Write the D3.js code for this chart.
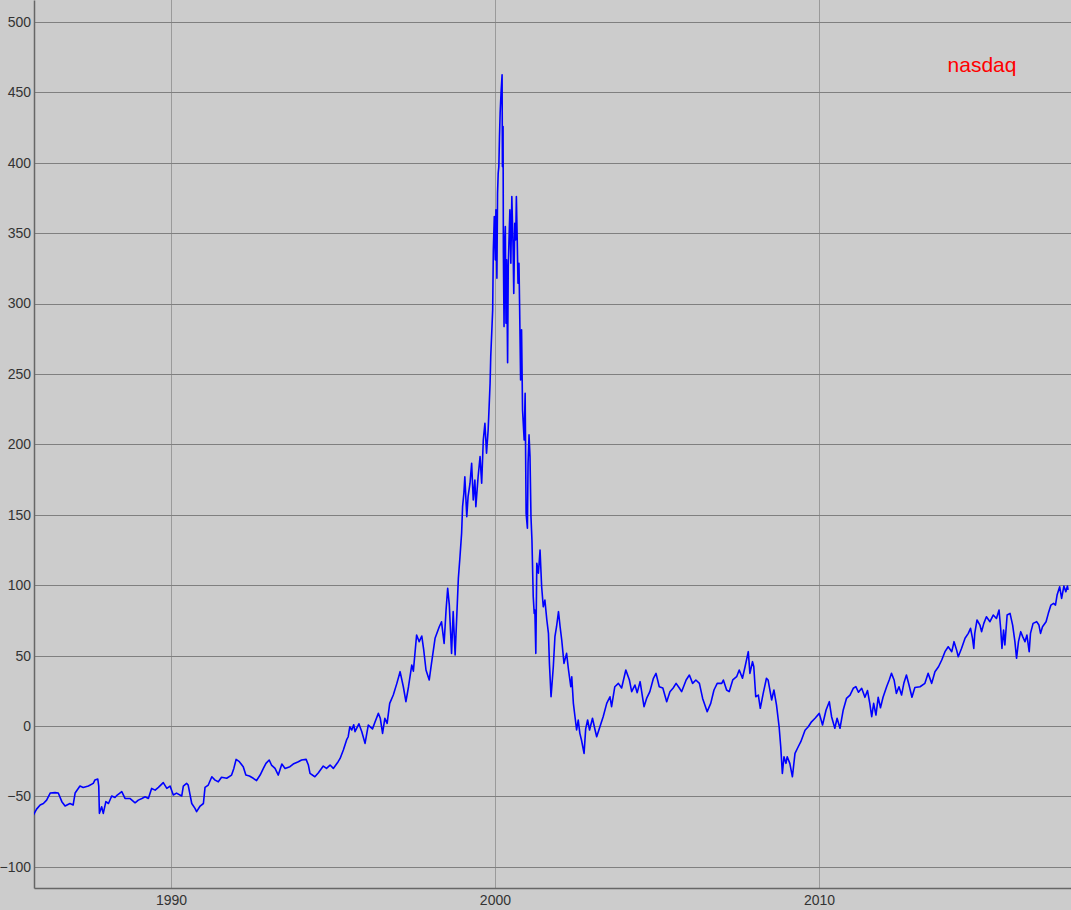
<!DOCTYPE html>
<html>
<head>
<meta charset="utf-8">
<script src="https://cdn.jsdelivr.net/npm/d3@7"></script>
<style>
  html, body { margin: 0; padding: 0; background: #cccccc; }
  svg { display: block; }
</style>
</head>
<body>
<div id="chart"></div>
<script>
// series label
const seriesName = "nasdaq";

// tick values
const yTicks = [-100, -50, 0, 50, 100, 150, 200, 250, 300, 350, 400, 450, 500];
const xTickYears = [1990, 2000, 2010];

// [decimal year, value]
const series = [
  [1985.75, -63.2], [1985.85, -59], [1985.96, -56], [1986.06, -55], [1986.16, -52.6],
  [1986.27, -47.6], [1986.42, -47.3], [1986.52, -47.5], [1986.63, -53.7], [1986.73, -56.8],
  [1986.88, -55], [1986.98, -56], [1987.04, -47.6], [1987.19, -42.6], [1987.29, -43.6],
  [1987.45, -42.6], [1987.60, -40.7], [1987.65, -38.4], [1987.74, -37.6], [1987.77, -42.6],
  [1987.79, -62], [1987.86, -57.3], [1987.91, -62], [1987.99, -53.7], [1988.07, -55],
  [1988.17, -49.7], [1988.27, -50.7], [1988.34, -49], [1988.48, -46.6], [1988.58, -51.4],
  [1988.73, -51.4], [1988.89, -54.5], [1988.99, -52.6], [1989.10, -51.4], [1989.20, -50.2],
  [1989.30, -51.4], [1989.40, -44.3], [1989.51, -45.5], [1989.61, -43.6], [1989.76, -40.2],
  [1989.87, -44.3], [1989.97, -42.6], [1990.07, -49], [1990.17, -47.6], [1990.33, -49.7],
  [1990.38, -42.6], [1990.48, -40.7], [1990.53, -41.9], [1990.64, -55], [1990.74, -58.5],
  [1990.79, -60.8], [1990.90, -56.8], [1991.00, -55], [1991.05, -43.6], [1991.15, -41.9],
  [1991.26, -36], [1991.36, -38.4], [1991.46, -39.6], [1991.56, -36.4], [1991.72, -37.1],
  [1991.87, -34.8], [1991.94, -30.1], [1992.01, -23.7], [1992.11, -25.3], [1992.23, -28.9],
  [1992.31, -34.8], [1992.42, -35.5], [1992.54, -37.1], [1992.64, -38.7], [1992.75, -34.8],
  [1992.85, -30.1], [1992.93, -26.5], [1993.03, -24.1], [1993.10, -27.7], [1993.21, -30.1],
  [1993.31, -34.8], [1993.42, -27], [1993.52, -30.1], [1993.67, -28.9], [1993.77, -27],
  [1993.93, -25.3], [1994.03, -24.1], [1994.17, -23.7], [1994.24, -27.7], [1994.29, -33.6],
  [1994.44, -36], [1994.55, -33.1], [1994.70, -28.4], [1994.80, -30.1], [1994.91, -27.7],
  [1995.01, -30.1], [1995.16, -25.3], [1995.22, -23], [1995.32, -17], [1995.42, -9.9],
  [1995.47, -7.6], [1995.52, -0.5], [1995.58, -2.8], [1995.64, 0.9], [1995.68, -4],
  [1995.73, -1.6], [1995.80, 1.6], [1995.89, -4], [1995.99, -12.3], [1996.09, 0.7],
  [1996.22, -2], [1996.30, 3], [1996.40, 9], [1996.46, 5.5], [1996.53, -5.2],
  [1996.60, 5.5], [1996.67, 1.9], [1996.75, 16.1], [1996.86, 22], [1996.97, 30.3],
  [1997.07, 38.6], [1997.17, 27.9], [1997.25, 17.3], [1997.33, 27.9], [1997.43, 43.3],
  [1997.48, 39], [1997.58, 64.6], [1997.66, 59.9], [1997.74, 63.9], [1997.80, 54],
  [1997.87, 39.8], [1997.97, 32.7], [1998.04, 44.5], [1998.15, 62.3], [1998.28, 70.5],
  [1998.35, 74], [1998.43, 58.7], [1998.49, 82.4], [1998.54, 97.8], [1998.59, 86],
  [1998.66, 51.6], [1998.71, 81.2], [1998.77, 50.4], [1998.82, 77.6], [1998.87, 104.9],
  [1998.92, 120.2], [1998.97, 136.8], [1999.00, 155.8], [1999.04, 165.3], [1999.07, 177],
  [1999.13, 148.6], [1999.17, 162.9], [1999.23, 172.4], [1999.28, 186.6], [1999.33, 160.5],
  [1999.38, 174.7], [1999.41, 155.8], [1999.48, 177], [1999.54, 191.3], [1999.59, 172.4],
  [1999.64, 203.1], [1999.69, 215], [1999.74, 193.7], [1999.79, 210.2], [1999.82, 226.8],
  [1999.85, 243.4], [1999.87, 262.3], [1999.90, 278.9], [1999.93, 295.5], [1999.95, 338],
  [1999.98, 361.7], [2000.01, 331], [2000.03, 366.5], [2000.06, 318], [2000.08, 378.3],
  [2000.10, 392.5], [2000.12, 397.2], [2000.14, 418.5], [2000.16, 435.2], [2000.19, 450.5],
  [2000.22, 462.4], [2000.23, 397.2], [2000.25, 425.7], [2000.26, 335.7], [2000.28, 283.6],
  [2000.30, 342.8], [2000.32, 354.6], [2000.34, 286], [2000.36, 331], [2000.39, 258],
  [2000.41, 326.2], [2000.43, 342.8], [2000.46, 366.5], [2000.49, 328.6], [2000.52, 375.9],
  [2000.56, 338], [2000.58, 307.2], [2000.61, 357], [2000.64, 345.2], [2000.66, 375.9],
  [2000.69, 340.4], [2000.71, 314.4], [2000.74, 328.6], [2000.76, 297.8], [2000.79, 245.7],
  [2000.82, 281.3], [2000.85, 224.4], [2000.90, 203.1], [2000.93, 236.3], [2000.96, 151],
  [2001.00, 140.4], [2001.02, 186.6], [2001.05, 206.7], [2001.08, 191.3], [2001.11, 148.6],
  [2001.14, 132.1], [2001.18, 91.8], [2001.21, 80], [2001.23, 82.4], [2001.26, 51.6],
  [2001.29, 115.6], [2001.34, 108.5], [2001.39, 125], [2001.44, 98.9], [2001.49, 84.7],
  [2001.54, 89.4], [2001.60, 75.3], [2001.65, 65.8], [2001.68, 44.5], [2001.73, 20.8],
  [2001.80, 42.1], [2001.85, 63.4], [2001.90, 70.5], [2001.96, 81.2], [2002.01, 70.5],
  [2002.06, 61.1], [2002.13, 44.5], [2002.21, 51.6], [2002.27, 39.8], [2002.34, 27.9],
  [2002.37, 35], [2002.42, 16.1], [2002.47, 6.6], [2002.52, -2.8], [2002.57, 4.2],
  [2002.62, -5.2], [2002.67, -9.9], [2002.75, -19.4], [2002.80, -2], [2002.86, 4.3],
  [2002.92, -2.8], [2003.01, 5.5], [2003.09, -2.8], [2003.14, -7.6], [2003.24, -0.5],
  [2003.34, 6.6], [2003.45, 16.1], [2003.55, 20.8], [2003.60, 13.7], [2003.70, 27.9],
  [2003.81, 30.3], [2003.91, 27], [2004.04, 39.8], [2004.15, 32.7], [2004.22, 24.4],
  [2004.32, 29.1], [2004.39, 23.7], [2004.48, 31.5], [2004.60, 13.7], [2004.68, 19.6],
  [2004.78, 24.4], [2004.89, 33.9], [2004.97, 37.4], [2005.07, 27.9], [2005.18, 27],
  [2005.30, 17.3], [2005.40, 24.4], [2005.50, 27], [2005.59, 30.3], [2005.69, 27],
  [2005.76, 24.4], [2005.90, 32.7], [2006.00, 36.2], [2006.10, 30.3], [2006.20, 32.7],
  [2006.31, 30.3], [2006.41, 19.6], [2006.55, 10.2], [2006.66, 16.1], [2006.76, 25.6],
  [2006.86, 30.3], [2007.00, 30.3], [2007.05, 32.7], [2007.15, 25.6], [2007.23, 24.4],
  [2007.34, 32.7], [2007.46, 35], [2007.54, 39.8], [2007.64, 33.9], [2007.72, 42.1],
  [2007.82, 52.8], [2007.87, 37.4], [2007.95, 45.7], [2007.99, 42.1], [2008.05, 20.8],
  [2008.13, 22], [2008.19, 12.6], [2008.28, 23.2], [2008.38, 33.9], [2008.43, 32.7],
  [2008.54, 18.5], [2008.61, 25.6], [2008.69, 14.9], [2008.77, -0.5], [2008.82, -14.7],
  [2008.87, -33.6], [2008.92, -21.8], [2008.98, -26.5], [2009.02, -21.8], [2009.10, -26.5],
  [2009.18, -36], [2009.26, -19.4], [2009.36, -14.7], [2009.44, -11.1], [2009.57, -3],
  [2009.67, -0.5], [2009.77, 3], [2009.88, 5.5], [2010.01, 9], [2010.11, 0.7],
  [2010.22, 11.4], [2010.32, 17.3], [2010.39, 6.6], [2010.49, -1.6], [2010.56, 5.5],
  [2010.65, -1.6], [2010.75, 11.4], [2010.85, 19.6], [2010.96, 22], [2011.06, 26.8],
  [2011.14, 28], [2011.22, 24], [2011.32, 26.8], [2011.42, 20.4], [2011.50, 25.2],
  [2011.57, 16.1], [2011.63, 6.6], [2011.69, 16.1], [2011.76, 7.8], [2011.83, 20.4],
  [2011.90, 13], [2011.98, 20.4], [2012.09, 27.9], [2012.17, 32.7], [2012.24, 37.4],
  [2012.32, 32.7], [2012.39, 23.2], [2012.47, 27.9], [2012.55, 22], [2012.62, 30.3],
  [2012.70, 36.2], [2012.78, 29.1], [2012.87, 20.4], [2012.96, 27.3], [2013.12, 27.9],
  [2013.27, 30.3], [2013.37, 37.4], [2013.48, 30.3], [2013.58, 38.6], [2013.69, 42.1],
  [2013.79, 46.9], [2013.89, 52.8], [2013.99, 56.3], [2014.10, 52.8], [2014.17, 59.9],
  [2014.25, 53.9], [2014.30, 49.2], [2014.40, 55.1], [2014.51, 62.3], [2014.61, 65.8],
  [2014.68, 69.4], [2014.74, 62.3], [2014.78, 55.1], [2014.81, 65.8], [2014.88, 75.3],
  [2014.97, 71.7], [2015.02, 67], [2015.09, 72.9], [2015.17, 77.6], [2015.28, 74.1],
  [2015.38, 78.8], [2015.48, 76.4], [2015.56, 82.4], [2015.61, 69.4], [2015.65, 55.1],
  [2015.70, 68.2], [2015.74, 57.5], [2015.81, 78.8], [2015.90, 80], [2015.98, 71.7],
  [2016.05, 59.9], [2016.10, 48.1], [2016.16, 59.9], [2016.23, 67], [2016.29, 63.5],
  [2016.36, 59.9], [2016.42, 64.6], [2016.49, 52.8], [2016.53, 65.8], [2016.61, 72.9],
  [2016.72, 74.1], [2016.79, 71.7], [2016.84, 65.8], [2016.90, 70.5], [2017.01, 74.1],
  [2017.08, 80], [2017.16, 85.9], [2017.24, 87.1], [2017.30, 85.9], [2017.35, 93],
  [2017.43, 98.9], [2017.49, 90.6], [2017.56, 99.4], [2017.62, 95.4], [2017.67, 99.4],
  [2017.69, 96.6]
];

// decimal year -> Date
function toDate(y) {
    const yr = Math.floor(y);
    const start = new Date(yr, 0, 1), end = new Date(yr + 1, 0, 1);
    return new Date(+start + (y - yr) * (end - start));
}

const width = 1071, height = 910;
const margin = {top: 0, right: 0, bottom: 22, left: 34};
const innerW = width - margin.left - margin.right;
const innerH = height - margin.top - margin.bottom;

const svg = d3.select("#chart")
    .append("svg")
    .attr("width", width)
    .attr("height", height)
    .style("font-family", "'Liberation Sans', Arial, sans-serif");

svg.append("rect")
    .attr("width", width)
    .attr("height", height)
    .attr("fill", "#cccccc");

const g = svg.append("g")
    .attr("transform", `translate(${margin.left},${margin.top})`);

const x = d3.scaleTime()
    .domain([toDate(1985.77), toDate(2017.78)])
    .range([0, innerW]);

const y = d3.scaleLinear()
    .domain([-115, 515.5])
    .range([innerH, 0]);

// vertical grid
g.append("g")
    .selectAll("line")
    .data(xTickYears)
    .enter()
    .append("line")
    .attr("x1", d => Math.round(x(new Date(d, 0, 1))) + 0.5)
    .attr("x2", d => Math.round(x(new Date(d, 0, 1))) + 0.5)
    .attr("y1", 0)
    .attr("y2", innerH)
    .attr("stroke", "#9a9a9a")
    .attr("stroke-width", 1);

// horizontal grid
g.append("g")
    .selectAll("line")
    .data(yTicks)
    .enter()
    .append("line")
    .attr("x1", 0)
    .attr("x2", innerW)
    .attr("y1", d => Math.round(y(d)) + 0.5)
    .attr("y2", d => Math.round(y(d)) + 0.5)
    .attr("stroke", "#7f7f7f")
    .attr("stroke-width", 1);

// Y axis
const yAxis = g.append("g")
    .call(d3.axisLeft(y).tickValues(yTicks).tickSize(0).tickPadding(3));
yAxis.select(".domain").attr("stroke", "#666666").attr("stroke-width", 1.5);
yAxis.selectAll("text")
    .attr("fill", "#333333")
    .style("font-size", "14px");

// X axis
const xAxis = g.append("g")
    .attr("transform", `translate(0,${innerH})`)
    .call(d3.axisBottom(x)
        .tickValues(xTickYears.map(d => new Date(d, 0, 1)))
        .tickFormat(d3.timeFormat("%Y"))
        .tickSize(0)
        .tickPadding(7));
xAxis.select(".domain").attr("stroke", "#666666").attr("stroke-width", 1.5);
xAxis.selectAll("text")
    .attr("fill", "#333333")
    .style("font-size", "14px");

// clip
g.append("clipPath")
    .attr("id", "plot-clip")
    .append("rect")
    .attr("width", innerW)
    .attr("height", innerH);

const line = d3.line()
    .x(d => x(toDate(d[0])))
    .y(d => y(d[1]));

g.append("path")
    .datum(series)
    .attr("clip-path", "url(#plot-clip)")
    .attr("fill", "none")
    .attr("stroke", "#0000ff")
    .attr("stroke-width", 1.6)
    .attr("stroke-linejoin", "round")
    .attr("d", line);

// series label
svg.append("text")
    .attr("x", 982)
    .attr("y", 72)
    .attr("text-anchor", "middle")
    .attr("fill", "#ff0000")
    .style("font-size", "21px")
    .text(seriesName);
</script>
</body>
</html>
